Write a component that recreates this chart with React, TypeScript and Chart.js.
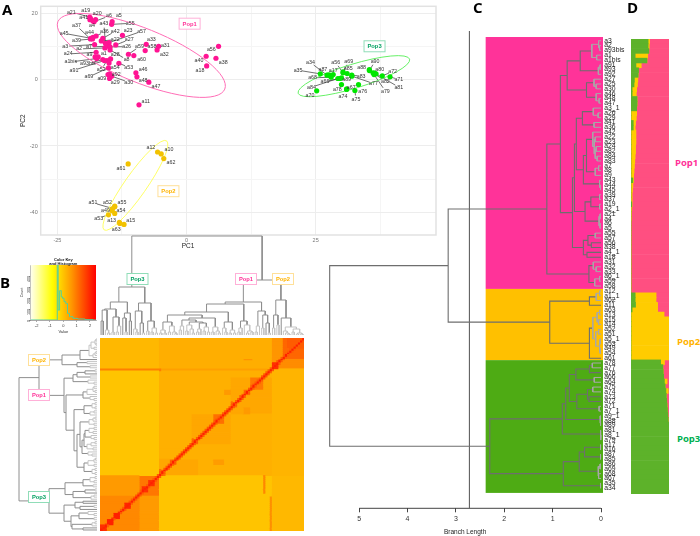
import React, { useEffect, useRef } from "react";
import Chart from "chart.js/auto";

// ---------- Panel A: PCA ----------
const pop1Names = ["a21","a19","a41","a20","a6","a4","a5","a55","a43","a37","a44","a36","a42","a23","a57","a45","a39","a22","a27","a33","a3","a2","a7","a26","a59","a58","a31","a32","a60","a8","a24","a9","a1","a28","a1bis","a93bis","a91","a52","a54","a53","a46","a69","a09","a92","a29","a30","a48","a47","a11","a56","a40","a38","a18"];
const pop1PC1 = [-18.75,-18.6,-18.7,-17.6,-17.9,-18.1,-14.4,-14.5,-15.7,-18.6,-18.1,-17.5,-16.2,-12.4,-15,-18.5,-18.2,-16.5,-13.7,-7.8,-17.8,-15.8,-15.5,-14.8,-11.25,-8,-5.4,-5.7,-10.2,-14.8,-17.5,-17.7,-17.1,-14.7,-17.4,-16.2,-15.9,-15.4,-15,-13.1,-9.8,-15.1,-15.2,-14.9,-14.9,-14.5,-9.6,-7.3,-9.2,6.2,3.8,5.7,3.9];
const pop1PC2 = [18.8,18.4,18,18,17.4,17.6,17.4,16.6,10.9,12.2,12.7,13.1,12.4,13.3,11.1,12.4,12.2,11.6,10.4,10.6,10.5,9.5,10,9.8,7.6,8.7,10,8.9,7.2,8.9,8.2,6.8,6.8,6.2,6.3,6,5.7,5.7,5,4.9,2,3.5,1.5,1.7,0.3,1,0.8,-0.8,-7.6,10,7,6.4,4.1];
const pop1LabelAt = [[-22.3,20.3],[-19.5,20.7],[-19.9,18.6],[-17.3,19.9],[-15,19.1],[-18.3,16.2],[-13.1,19.1],[-10.9,16.9],[-16,16.8],[-21.3,16.2],[-18.8,14],[-15.9,14.3],[-13.8,14.5],[-11.3,14.6],[-8.7,14.5],[-23.7,13.9],[-21.3,11.8],[-13.8,12],[-11.1,12],[-6.8,12],[-23.5,10],[-20.8,9.2],[-18.9,9.8],[-11.6,9.9],[-9.1,9.9],[-6.7,9.8],[-4.1,10.3],[-4.3,7.6],[-8.7,6],[-11.6,6],[-22.9,7.7],[-18.8,7.4],[-16,7.9],[-13.8,7.6],[-22.4,5.3],[-19.1,4.8],[-21.8,2.8],[-16.5,2.9],[-13.8,3.5],[-11.2,3.7],[-8.4,3.1],[-18.9,0.8],[-16.4,0.2],[-13.6,1.4],[-13.8,-1],[-11.2,-0.8],[-8.4,-0.4],[-5.9,-2.1],[-7.9,-6.5],[4.8,8.9],[2.4,5.7],[7.1,5.2],[2.6,2.8]];

const pop2Names = ["a12","a10","a62","a61","a51","a52","a55","a49","a54","a53","a13","a15","a63"];
const pop2PC1 = [-5.6,-4.9,-4.4,-11.3,-14.3,-13.9,-13.9,-14.4,-13.9,-15.1,-13,-12.1,-12.9];
const pop2PC2 = [-21.8,-22.4,-23.8,-25.4,-38.8,-38.1,-38.3,-39.5,-40.3,-40.7,-43,-43.6,-43.3];
const pop2LabelAt = [[-6.9,-20.6],[-3.4,-21.2],[-3,-25],[-12.7,-26.7],[-18.1,-37.1],[-15.3,-37],[-12.5,-37],[-15.7,-39.3],[-12.7,-39.5],[-17,-41.7],[-14.5,-42.4],[-10.8,-42.3],[-13.6,-45.1]];

const pop3Names = ["a34","a35","a87","a17","a56","a69","a85","a68","a66","a89","a84","a70","a78","a67","a74","a75","a76","a83","a77","a88","a90","a80","a72","a71","a82","a79","a81"];
const pop3PC1 = [27.2,25.9,27.7,28.4,30.3,30.3,31.1,28,29.7,30,29.3,25.2,30,31,31,32.6,33.3,32,32,35.4,35.4,36.4,37.9,39.4,36.1,36.3,36.7];
const pop3PC2 = [1.3,1.7,1.3,1.5,2,2.3,1.8,0.7,0.3,0.5,0.3,-3.4,-1.5,-2.9,-2.9,-3.3,-1.5,1.3,1,3,2.7,1.9,1.1,0.8,2,1.5,1.7];
const pop3LabelAt = [[24,5.1],[21.6,2.8],[26.4,3.1],[28.4,2.8],[28.9,5.1],[31.4,5.5],[31.3,3.3],[24.4,0.5],[26.8,-0.6],[31,-0.1],[24.2,-2.3],[23.9,-4.8],[29.2,-3],[31.9,-2.3],[30.3,-5.2],[32.8,-6],[34.1,-3.6],[33.8,1],[36.2,-1.2],[33.9,3.5],[36.5,5.5],[37.4,3.1],[39.9,2.4],[41.1,0],[38.5,-0.5],[38.5,-3.5],[41.1,-2.3]];

const pcaXTicks = [-25,-12.5,0,12.5,25,37.5];
const pcaYTicks = [-40,-30,-20,-10,0,10,20];
const popEllipses = [
  { cx: -8.75, cy: 7.25, rx: 90, ry: 27, turn: 22, color: "#FF6DB6" },
  { cx: -9.9, cy: -31.85, rx: 54.4, ry: 11, turn: -55, color: "#FFFF66" },
  { cx: 32.4, cy: 1.0, rx: 58.3, ry: 12, turn: -17, color: "#66F066" },
];
const popTagsA = [
  { x: 0.6, y: 16.8, text: "Pop1", color: "#FF3399", line: "#FFB0D8" },
  { x: -3.5, y: -33.6, text: "Pop2", color: "#FFB300", line: "#FFE099" },
  { x: 36.4, y: 10, text: "Pop3", color: "#00A060", line: "#90DDB8" },
];

// ---------- Panel B: heat map, dendrograms, colour key ----------
type Tree = number | [number, Tree, Tree];
const heatTop3: Tree = [48,
  [33,[26,[25,[14,0,0],[5,0,[2,0,0]]],[18,[3,0,0],[9,[3,0,0],0]]],[22,[17,0,[3,0,0]],[14,0,0]]],
  [32,[24,[6,0,[3,0,0]],[12,0,[2,0,0]]],[14,[4,0,0],[7,[3,0,0],[2,0,0]]]]];
const heatS1: Tree = [15,[9,[5,0,0],0],[13,[10,[4,0,0],[6,0,[2,0,0]]],[12,[6,[3,0,0],0],[8,[4,0,0],[3,0,0]]]]];
const heatLeft9: Tree = [13,[5,[2,0,0],[2,0,0]],[9,[3,0,0],[3,0,[1.5,0,0]]]];
const heatRight20: Tree = [17,heatS1,[8,[3,0,0],[4,0,[2,0,0]]]];
const heatMid7: Tree = [13,[7,0,[3,0,0]],[5,[2,0,0],[2,0,0]]];
const heatMid8: Tree = [14,[7,[3,0,0],0],[10,0,[4,[2,0,0],[3,0,0]]]];
const heatEnd8: Tree = [24,[9,[3,0,0],0],[20,[7,0,0],[12,0,[2,0,0]]]];
const heatPop1: Tree = [33,[31,[23,[20,heatLeft9,heatRight20],heatMid7],heatMid8],heatEnd8];
const heatPop2: Tree = [35,[20,[7,0,0],[10,0,0]],[17,0,[8,[4,0,[2,0,[1,0,0]]],[6,[3,0,0],[2,[1,0,0],[1,0,0]]]]]];
const heatColTree: Tree = [99,heatTop3,[55,heatPop1,heatPop2]];
const heatRowTree: Tree = [78,heatTop3,[58,heatPop1,heatPop2]];

// [firstCol, endCol, firstRow, endRow, value]; later blocks paint over earlier ones
const heatBlocks: number[][] = [
  [0,94,0,94,0.06],
  [0,27,15,67,-0.16],[27,79,67,94,-0.16],
  [27,79,15,67,0.09],
  [27,45,59,67,0.2],[42,60,37,52,0.2],[60,79,19,37,0.2],
  [0,27,0,15,-0.01],[27,79,0,15,0.12],
  [79,94,15,67,0.04],[79,94,67,94,-0.01],
  [79,94,0,15,0.54],[79,84,0,12,0.43],[84,94,0,10,1.02],[86,94,0,5,1.15],
  [0,27,67,94,0.37],[18,27,67,77,0.81],[0,18,77,94,0.59],
  [22,25,69,72,1.7],[19,22,72,75,1.7],[11,14,80,83,1.8],[6,9,85,88,1.9],[3,6,88,91,1.9],[0,3,91,94,1.7],
  [27,30,64,67,0.9],[32,35,59,62,0.97],[42,45,49,52,0.97],[52,57,37,42,0.9],[60,63,31,34,0.9],[66,69,25,28,0.97],[69,75,19,25,0.77],[79,82,12,15,1.7],
  [0,28,15,16,0.7],[28,79,15,16,0.3],[75,76,67,76,0.6],[78,79,77,94,0.5],
  [66,70,10,11,0.45],[57,60,25,28,0.37],[66,69,34,37,0.37],[52,57,59,62,0.34],
];
const heatDiagonal = 1.9;
const heatNearDiagonal = 1.15;

const keyTicks = [-2,-1,0,1,2];
const countTicks = [0,100,200,300,400];
const histValue = [-2.44,-0.48,-0.42,-0.35,-0.2,-0.1,0,0.12,0.25,0.38,0.55,0.9,1.25,2,2.45];
const histCount = [0,0,520,90,267,210,197,167,150,60,30,15,9,3,0];

// ---------- Panel C: dendrogram ----------
const leafNames = ["a3","a2","a93bis","a1","a1bis","a91","a93","a92","a27","a25","a30","a46","a48","a47","a3_1","a26","a29","a41","a36","a42","a22","a23","a24","a82","a84","a83","a7","a8","a9","a43","a44","a45","a39","a37","a19","a2_1","a21","a4","a6","a5","a55","a57","a56","a38","a4_1","a18","a31","a32","a33","a6_1","a59","a58",
  "a12","a1_1","a62","a11","a63","a13","a15","a14","a52","a51","a5_1","a53","a49","a54","a61",
  "a78","a77","a76","a66","a64","a75","a74","a73","a72","a71","a7_1","a9_1","a88","a89","a81","a8_1","a79","a17","a16","a87","a85","a86","a69","a68","a67","a35","a34"];
const cladeA: Tree = [.43,[.19,[.05,0,[.03,0,0]],[.09,0,0]],[.055,[.02,0,0],0]];
const cladeB: Tree = [.30,[.145,0,[.1,0,0]],[.1,0,[.04,0,0]]];
const cladeC: Tree = [.385,[.16,0,[.06,0,0]],[.145,0,0]];
const cladeD: Tree = [.365,[.3,[.17,0,[.14,[.12,0,0],[.12,[.10,0,0],[.08,0,0]]]],[.12,[.05,0,0],0]],[.03,0,[.01,0,0]]];
const cladeE: Tree = [.33,[.21,[.03,0,0],[.03,0,0]],[.04,[.02,0,0],[.02,0,0]]];
const cladeF: Tree = [.365,[.27,[.12,0,0],[.2,0,0]],[.29,0,0]];
const cladeG: Tree = [.25,[.16,0,[.1,0,0]],[.13,[.03,0,0],0]];
const pop1Clade: Tree = [1.12,[.84,[.70,cladeA,cladeB],[.59,[.55,[.51,cladeC,cladeD],cladeE],cladeF]],cladeG];
const pop2Clade: Tree = [1.06,[.24,[.1,[.03,0,0],0],0],[.24,[.17,[.08,[.03,0,0],[.05,0,0]],[.11,[.05,0,0],[.03,[.02,0,0],[.02,0,0]]]],0]];
const pop3Clade: Tree = [2.3,[.8,[.73,[.655,[.52,[.24,[.18,0,0],0],[.14,0,0]],[.5,[.28,[.17,0,0],[.25,0,0]],[.04,0,0]]],[.02,0,[.01,0,0]]],[.01,0,[.005,0,0]]],[.78,[.45,[.34,[.01,0,0],[.01,0,0]],[.06,[.02,0,0],[.05,0,0]]],[.01,0,0]]];
const wholeTree: Tree = [5.61,[3.16,pop1Clade,pop2Clade],pop3Clade];
const branchTicks = [5,4,3,2,1,0];
const cutHeight = 2.72;
const bandFrom = [-0.77,51.6,66.4];
const bandTo = [51.6,66.4,94];
const bandHeight = 2.385;
const bandColors = ["#FF3399","#FFC000","#4EAB14"];

// ---------- Panel D: ancestry ----------
const ancestryGreen = [45,45,47,11,42,13,20,19,9,8,3,3,16,16,15,0,0,6,6,0,0,0,0,0,0,0,0,0,0,5,0,0,0,0,2,0,0,0,0,0,0,0,0,0,0,0,0,0,0,0,0,0,0,
  11,11,12,3,0,0,0,0,0,0,0,0,0,0,
  78,84,85,86,88,90,92,93,94,95,96,97,98,100,100,100,100,100,100,100,100,100,100,100,100,100,100,100];
const ancestryYellow = [4,3,0,33,0,14,0,0,9,9,12,11,0,0,0,15,14,6,5,13,13,13,12,12,11,10,9,8,7,2,5,4,3,3,1,2,1,1,0,0,0,0,0,0,0,0,0,0,0,0,0,0,0,
  55,55,58,67,87,100,100,100,100,100,100,100,100,100,
  10,0,0,0,7,0,6,0,0,0,0,0,0,0,0,0,0,0,0,0,0,0,0,0,0,0,0];
const ancestryPink = ancestryGreen.map((g, i) => 100 - g - ancestryYellow[i]);

// ---------- helpers ----------
const SANS = '"Liberation Sans", Arial, sans-serif';

function branchPaths(tree: Tree, lightBelow: number) {
  const dark: any[] = [];
  const light: any[] = [];
  let leaf = 0;
  const walk = (n: Tree): [number, number] => {
    if (!Array.isArray(n)) return [leaf++, 0];
    const [h, a, b] = n;
    const [pa, ha] = walk(a);
    const [pb, hb] = walk(b);
    const out = h < lightBelow ? light : dark;
    out.push({ h: ha, p: pa }, { h, p: pa }, { h, p: pb }, { h: hb, p: pb }, { h: null, p: null });
    return [(pa + pb) / 2, h];
  };
  walk(tree);
  return { dark, light };
}

function tagBox(ctx: any, cx: number, cy: number, text: string, color: string, line: string) {
  const w = 21, h = 11;
  ctx.save();
  ctx.fillStyle = "#fff";
  ctx.fillRect(cx - w / 2, cy - h / 2, w, h);
  ctx.strokeStyle = line;
  ctx.lineWidth = 1;
  ctx.strokeRect(cx - w / 2, cy - h / 2, w, h);
  ctx.fillStyle = color;
  ctx.font = `bold 5.8px ${SANS}`;
  ctx.textAlign = "center";
  ctx.textBaseline = "middle";
  ctx.fillText(text, cx, cy + 0.3);
  ctx.restore();
}

const noExtras = { legend: { display: false }, tooltip: { enabled: false }, title: { display: false } };
const hiddenAxis = (extra: any) => ({ display: false, type: "linear", ...extra });

function heatColor(v: number) {
  const g = Math.max(0, Math.min(255, Math.round((2.3 - v) * 255 / 3.2)));
  return `rgb(255,${g},0)`;
}

function heatDatasets() {
  const N = 94;
  const m: number[][] = [];
  for (let r = 0; r < N; r++) m.push(new Array(N).fill(0));
  for (const [c0, c1, r0, r1, v] of heatBlocks)
    for (let r = r0; r < r1; r++) for (let c = c0; c < c1; c++) m[r][c] = v;
  for (let i = 0; i < N; i++) {
    const r = N - 1 - i;
    if (i > 0) m[r][i - 1] = Math.max(m[r][i - 1], heatNearDiagonal);
    if (i < N - 1) m[r][i + 1] = Math.max(m[r][i + 1], heatNearDiagonal);
    m[r][i] = heatDiagonal;
  }
  const sets: any[] = [];
  m.forEach((row, r) => {
    let k = 0, start = 0;
    for (let c = 1; c <= N; c++) {
      if (c === N || row[c] !== row[start]) {
        if (!sets[k]) sets[k] = { data: new Array(N).fill(null), backgroundColor: new Array(N).fill("#FFB000"), borderWidth: 0, inflateAmount: 0.4, grouped: false, barPercentage: 1, categoryPercentage: 1 };
        sets[k].data[r] = [start, c];
        sets[k].backgroundColor[r] = heatColor(row[start]);
        k++;
        start = c;
      }
    }
  });
  return sets;
}

// ---------- chart configs ----------
function pcaConfig() {
  const pops = [
    { n: pop1Names, x: pop1PC1, y: pop1PC2, at: pop1LabelAt, color: "#FF1493" },
    { n: pop2Names, x: pop2PC1, y: pop2PC2, at: pop2LabelAt, color: "#F2C200" },
    { n: pop3Names, x: pop3PC1, y: pop3PC2, at: pop3LabelAt, color: "#00E600" },
  ];
  const overlay = {
    id: "pcaOverlay",
    beforeDatasetsDraw(c: any) {
      const { ctx, scales: { x, y }, chartArea: a } = c;
      ctx.save();
      ctx.strokeStyle = "#E2E2E2";
      ctx.lineWidth = 1.5;
      ctx.strokeRect(a.left, a.top, a.right - a.left, a.bottom - a.top);
      ctx.strokeStyle = "#333";
      ctx.lineWidth = 0.7;
      for (const p of pops) p.n.forEach((_, i) => {
        const px = x.getPixelForValue(p.x[i]), py = y.getPixelForValue(p.y[i]);
        const lx = x.getPixelForValue(p.at[i][0]), ly = y.getPixelForValue(p.at[i][1]);
        const d = Math.hypot(lx - px, ly - py);
        if (d < 9) return;
        const t = (d - 4) / d;
        ctx.beginPath();
        ctx.moveTo(px, py);
        ctx.lineTo(px + (lx - px) * t, py + (ly - py) * t);
        ctx.stroke();
      });
      ctx.lineWidth = 1;
      for (const e of popEllipses) {
        ctx.strokeStyle = e.color;
        ctx.beginPath();
        ctx.ellipse(x.getPixelForValue(e.cx), y.getPixelForValue(e.cy), e.rx, e.ry, (e.turn * Math.PI) / 180, 0, Math.PI * 2);
        ctx.stroke();
      }
      ctx.restore();
    },
    afterDatasetsDraw(c: any) {
      const { ctx, scales: { x, y } } = c;
      ctx.save();
      ctx.fillStyle = "#333";
      ctx.font = `5.3px ${SANS}`;
      ctx.textAlign = "center";
      ctx.textBaseline = "middle";
      for (const p of pops) p.n.forEach((name, i) => ctx.fillText(name, x.getPixelForValue(p.at[i][0]), y.getPixelForValue(p.at[i][1])));
      ctx.fillStyle = "#222";
      ctx.font = `6.5px ${SANS}`;
      ctx.fillText("PC1", x.getPixelForValue(0.3), 246.5);
      ctx.restore();
      for (const t of popTagsA) tagBox(ctx, x.getPixelForValue(t.x), y.getPixelForValue(t.y), t.text, t.color, t.line);
    },
  };
  const grid = (major: (v: number) => boolean) => ({
    display: true, drawTicks: false,
    color: (k: any) => (major(k.tick.value) ? "#EDEDED" : "#F5F5F5"),
    lineWidth: 1,
  });
  return {
    type: "scatter",
    data: {
      datasets: pops.map((p) => ({
        data: p.x.map((v, i) => ({ x: v, y: p.y[i] })),
        backgroundColor: p.color, borderColor: p.color, pointRadius: 2.6, pointBorderWidth: 0,
      })),
    },
    options: {
      responsive: false, animation: false,
      layout: { padding: { top: 4.5, right: 1.3, left: 0, bottom: 0 } },
      plugins: noExtras,
      scales: {
        x: {
          type: "linear", min: -28.23, max: 48.3,
          afterBuildTicks: (s: any) => { s.ticks = pcaXTicks.map((value) => ({ value })); },
          afterFit: (s: any) => { s.height = 17; },
          grid: grid((v) => v % 25 === 0), border: { display: false },
          ticks: { font: { size: 5.5, family: SANS }, color: "#777", autoSkip: false, maxRotation: 0, padding: 2, callback: (v: number) => (v % 25 === 0 ? String(v) : "") },
        },
        y: {
          type: "linear", min: -46.78, max: 22.03,
          afterBuildTicks: (s: any) => { s.ticks = pcaYTicks.map((value) => ({ value })); },
          afterFit: (s: any) => { s.width = 40.7; },
          grid: grid((v) => v % 20 === 0), border: { display: false },
          ticks: { font: { size: 5.5, family: SANS }, color: "#777", autoSkip: false, padding: 3, callback: (v: number) => (v % 20 === 0 ? String(v) : "") },
          title: { display: true, text: "PC2", font: { size: 6.5, family: SANS }, color: "#222", padding: { top: 19, bottom: 0 } },
        },
      },
    },
    plugins: [overlay],
  };
}

function treeSets(tree: Tree, toPoint: (h: any, p: any) => any, darkColor: string, lightColor: string, lightBelow: number, widths: number[]) {
  const { dark, light } = branchPaths(tree, lightBelow);
  const one = (list: any[], color: string, w: number) => ({
    data: list.map((q) => toPoint(q.h, q.p)), showLine: true, pointRadius: 0, borderColor: color, borderWidth: w, spanGaps: false, clip: false,
  });
  return [one(light, lightColor, widths[1]), one(dark, darkColor, widths[0])];
}

function tagsPlugin(tags: any[]) {
  return { id: "tags", afterDatasetsDraw(c: any) { for (const t of tags) tagBox(c.ctx, t.x, t.y, t.text, t.color, t.line); } };
}

function colDendroConfig() {
  return {
    type: "scatter",
    data: { datasets: treeSets(heatColTree, (h, p) => ({ x: p, y: h }), "#8E8E8E", "#C4C4C4", 12, [1, 1]) },
    options: {
      responsive: false, animation: false, plugins: noExtras,
      scales: { x: hiddenAxis({ min: -0.5, max: 93.5 }), y: hiddenAxis({ min: 0, max: 103 }) },
    },
    plugins: [tagsPlugin([
      { x: 37.5, y: 47, text: "Pop3", color: "#00A060", line: "#90DDB8" },
      { x: 146, y: 47, text: "Pop1", color: "#FF3399", line: "#FFB0D8" },
      { x: 183, y: 47, text: "Pop2", color: "#FFB300", line: "#FFE099" },
    ])],
  };
}

function rowDendroConfig() {
  return {
    type: "scatter",
    data: { datasets: treeSets(heatRowTree, (h, p) => ({ x: h, y: p === null ? null : 93 - p }), "#8E8E8E", "#C4C4C4", 12, [1, 1]) },
    options: {
      responsive: false, animation: false, plugins: noExtras,
      scales: { x: hiddenAxis({ min: 0, max: 83, reverse: true }), y: hiddenAxis({ min: -0.5, max: 93.5, reverse: true }) },
    },
    plugins: [tagsPlugin([
      { x: 25, y: 22, text: "Pop2", color: "#FFB300", line: "#FFE099" },
      { x: 25, y: 57, text: "Pop1", color: "#FF3399", line: "#FFB0D8" },
      { x: 25, y: 159, text: "Pop3", color: "#00A060", line: "#90DDB8" },
    ])],
  };
}

function heatConfig() {
  const labels = Array.from({ length: 94 }, (_, i) => String(i));
  return {
    type: "bar",
    data: { labels, datasets: heatDatasets() },
    options: {
      indexAxis: "y", responsive: false, animation: false, plugins: noExtras,
      scales: { x: hiddenAxis({ min: 0, max: 94 }), y: { display: false, type: "category", offset: true } },
    },
  };
}

function keyConfig() {
  return {
    type: "scatter",
    data: {
      datasets: [{
        data: histValue.map((v, i) => ({ x: v, y: histCount[i] })),
        showLine: true, stepped: "middle", pointRadius: 0, borderColor: "#4FD0A0", borderWidth: 1,
      }],
    },
    options: {
      responsive: false, animation: false,
      layout: { padding: { top: 15, right: 4, left: 0, bottom: 0 } },
      plugins: noExtras,
      scales: {
        x: {
          type: "linear", min: -2.44, max: 2.45,
          afterBuildTicks: (s: any) => { s.ticks = keyTicks.map((value) => ({ value })); },
          afterFit: (s: any) => { s.height = 14; },
          grid: { drawOnChartArea: false, tickLength: 2, tickColor: "#555", lineWidth: 0.5 }, border: { color: "#555", width: 0.5 },
          ticks: { font: { size: 4, family: SANS }, color: "#333", autoSkip: false, maxRotation: 0, padding: 1 },
          title: { display: true, text: "Value", font: { size: 4, family: SANS }, color: "#333", padding: 0 },
        },
        y: {
          type: "linear", min: 0, max: 500,
          afterBuildTicks: (s: any) => { s.ticks = countTicks.map((value) => ({ value })); },
          afterFit: (s: any) => { s.width = 18.7; },
          grid: { drawOnChartArea: false, tickLength: 2, tickColor: "#555", lineWidth: 0.5 }, border: { color: "#555", width: 0.5 },
          ticks: { font: { size: 3.6, family: SANS }, color: "#333", autoSkip: false, minRotation: 90, maxRotation: 90, padding: 0 },
          title: { display: true, text: "Count", font: { size: 3.6, family: SANS }, color: "#333", padding: { top: 8, bottom: 0 } },
        },
      },
    },
    plugins: [{
      id: "keyRamp",
      beforeDatasetsDraw(c: any) {
        const { ctx, chartArea: a } = c;
        const g = ctx.createLinearGradient(a.left, 0, a.right, 0);
        g.addColorStop(0, "#FFFFF0");
        g.addColorStop(0.22, "#FFFF50");
        g.addColorStop(0.33, "#FFFF00");
        g.addColorStop(0.62, "#FF9900");
        g.addColorStop(1, "#FF0000");
        ctx.fillStyle = g;
        ctx.fillRect(a.left, a.top, a.right - a.left, a.bottom - a.top);
        ctx.fillStyle = "#111";
        ctx.font = `bold 4px ${SANS}`;
        ctx.textAlign = "center";
        ctx.textBaseline = "middle";
        const mid = (a.left + a.right) / 2;
        ctx.fillText("Color Key", mid, a.top - 5);
        ctx.fillText("and Histogram", mid, a.top - 1);
      },
    }],
  };
}

function treeConfig() {
  const yMin = -2.02, yMax = 97.2;
  const ds: any[] = [
    ...treeSets(wholeTree, (h, p) => ({ x: h, y: p }), "#6E6E6E", "#A8A8A8", 0.2, [1.1, 1]),
    { data: [{ x: cutHeight, y: yMin }, { x: cutHeight, y: yMax }], showLine: true, pointRadius: 0, borderColor: "#666", borderWidth: 1, clip: false },
    { data: [{ x: 5, y: yMax }, { x: 0, y: yMax }], showLine: true, pointRadius: 0, borderColor: "#444", borderWidth: 1, clip: false },
  ];
  return {
    type: "scatter",
    data: { datasets: ds },
    options: {
      responsive: false, animation: false,
      layout: { padding: { top: 31, left: 0, right: 0, bottom: 0 } },
      plugins: noExtras,
      scales: {
        x: {
          type: "linear", reverse: true, min: -0.041, max: 5.81,
          afterBuildTicks: (s: any) => { s.ticks = branchTicks.map((value) => ({ value })); },
          afterFit: (s: any) => { s.height = 27.7; },
          grid: { drawOnChartArea: false, tickLength: 4, tickColor: "#444" }, border: { display: false },
          ticks: { font: { size: 7, family: SANS }, color: "#333", autoSkip: false, maxRotation: 0, padding: 3 },
        },
        y: {
          type: "linear", position: "right", reverse: true, min: yMin, max: yMax,
          afterBuildTicks: (s: any) => { s.ticks = leafNames.map((_, value) => ({ value })); },
          afterFit: (s: any) => { s.width = 27; },
          grid: { display: false, drawTicks: false }, border: { display: false },
          ticks: { font: { size: 6.8, family: SANS }, color: "#222", autoSkip: false, padding: 1.3, callback: (v: number) => leafNames[v] ?? "" },
        },
      },
    },
    plugins: [{
      id: "bands",
      beforeDatasetsDraw(c: any) {
        const { ctx, scales: { x, y }, chartArea: a } = c;
        bandColors.forEach((col, i) => {
          const y0 = y.getPixelForValue(bandFrom[i]), y1 = y.getPixelForValue(bandTo[i]);
          const x0 = x.getPixelForValue(bandHeight);
          ctx.fillStyle = col;
          ctx.fillRect(x0, y0, a.right - x0, y1 - y0);
        });
      },
      afterDatasetsDraw(c: any) {
        const { ctx, scales: { x } } = c;
        ctx.save();
        ctx.fillStyle = "#222";
        ctx.font = `6.5px ${SANS}`;
        ctx.textAlign = "center";
        ctx.textBaseline = "middle";
        ctx.fillText("Branch Length", x.getPixelForValue(2.81), 532);
        ctx.restore();
      },
    }],
  };
}

function ancestryConfig() {
  const base = { borderWidth: 0, barPercentage: 1, categoryPercentage: 1, stack: "q" };
  return {
    type: "bar",
    data: {
      labels: ancestryGreen.map((_, i) => String(i)),
      datasets: [
        { ...base, data: ancestryGreen, backgroundColor: "#5DB22A" },
        { ...base, data: ancestryYellow, backgroundColor: "#FFCC00" },
        { ...base, data: ancestryPink, backgroundColor: "#FF4F81" },
      ],
    },
    options: {
      indexAxis: "y", responsive: false, animation: false, plugins: noExtras,
      scales: { x: hiddenAxis({ min: 0, max: 100, stacked: true }), y: { display: false, type: "category", stacked: true } },
    },
  };
}

// ---------- React ----------
function Panel({ make, left, top, width, height }: any) {
  const ref = useRef<HTMLCanvasElement | null>(null);
  useEffect(() => {
    const chart = new Chart(ref.current as any, make());
    return () => chart.destroy();
  }, [make]);
  return <canvas ref={ref} width={width} height={height} style={{ position: "absolute", left, top, width, height, display: "block" }} />;
}

const letter = (text: string, left: number, top: number) => (
  <div key={text} style={{ position: "absolute", left, top, font: 'bold 15px/15px "Open Sans", sans-serif', color: "#000" }}>{text}</div>
);
const sideLabel = (text: string, left: number, top: number, color: string) => (
  <div key={text} style={{ position: "absolute", left, top, font: 'bold 9.5px/10px "Open Sans", sans-serif', color, whiteSpace: "nowrap" }}>{text}</div>
);

export default function App() {
  return (
    <div style={{ position: "absolute", left: 0, top: 0, width: 700, height: 536, overflow: "hidden", background: "#fff" }}>
      <Panel make={pcaConfig} left={0} top={0} width={440} height={252} />
      <Panel make={keyConfig} left={12} top={250} width={88} height={84} />
      <Panel make={colDendroConfig} left={100} top={232} width={204} height={103} />
      <Panel make={rowDendroConfig} left={14} top={338} width={83} height={193} />
      <Panel make={heatConfig} left={100} top={338} width={204} height={193} />
      <Panel make={treeConfig} left={320} top={0} width={310} height={536} />
      <Panel make={ancestryConfig} left={631} top={39} width={38} height={455} />
      {letter("A", 2, 2)}
      {letter("B", 0, 275)}
      {letter("C", 473, 0)}
      {letter("D", 627, 0)}
      {sideLabel("Pop1", 675, 158, "#FF3399")}
      {sideLabel("Pop2", 677, 337, "#FFB300")}
      {sideLabel("Pop3", 677, 434, "#00B050")}
    </div>
  );
}
